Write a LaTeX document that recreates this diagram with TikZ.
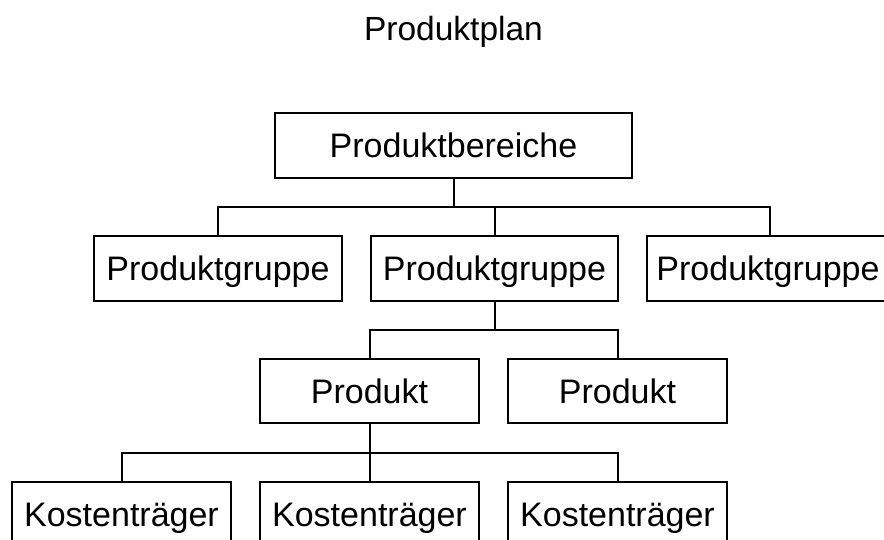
\documentclass[tikz,border=0pt]{standalone}
\usepackage{fontspec}
\setmainfont{Liberation Sans}
\begin{document}
\begin{tikzpicture}[x=1pt,y=-1pt,
  box/.style={draw,line width=2pt,rectangle,inner sep=0pt,
    minimum height=#1,text height=24.3pt,text depth=0pt,
    font=\fontsize{34}{40}\selectfont},
  conn/.style={draw,line width=2pt},
  ttl/.style={inner sep=0pt,text height=24.3pt,text depth=0pt,font=\fontsize{33.5}{40}\selectfont}]
\clip (0,0) rectangle (884,539);
\fill[white] (0,0) rectangle (884,539);
\node[ttl] (title) at (453.5,28.5) {Produktplan};
\node[box=65pt,minimum width=357pt] (pb) at (453.5,145.5) {Produktbereiche};
\node[box=65pt,minimum width=248pt] (g1) at (218,268.5) {Produktgruppe};
\node[box=65pt,minimum width=247pt] (g2) at (494.5,268.5) {Produktgruppe};
\node[box=65pt,minimum width=242pt] (g3) at (768,268.5) {Produktgruppe};
\node[box=64pt,minimum width=219pt] (p1) at (369.5,391) {Produkt};
\node[box=64pt,minimum width=219pt] (p2) at (617.5,391) {Produkt};
\node[box=64pt,minimum width=219pt] (k1) at (121.5,514) {Kostenträger};
\node[box=64pt,minimum width=219pt] (k2) at (369.5,514) {Kostenträger};
\node[box=64pt,minimum width=219pt] (k3) at (617.5,514) {Kostenträger};
\coordinate (b1) at (0,207);
\coordinate (b2) at (0,329.5);
\coordinate (b3) at (0,452.5);
\coordinate (d3) at (770,0);
\draw[conn] (pb.south) -- (pb.south |- b1);
\draw[conn] (g1.north) |- (d3 |- b1) -- (d3 |- g3.north);
\draw[conn] (g2.north) -- (g2.north |- b1);
\draw[conn] (g2.south) -- (g2.south |- b2);
\draw[conn] (p1.north) |- (p2.north |- b2) -- (p2.north);
\draw[conn] (p1.south) -- (p1.south |- b3);
\draw[conn] (k1.north) |- (k3.north |- b3) -- (k3.north);
\draw[conn] (k2.north) -- (k2.north |- b3);
\end{tikzpicture}
\end{document}
